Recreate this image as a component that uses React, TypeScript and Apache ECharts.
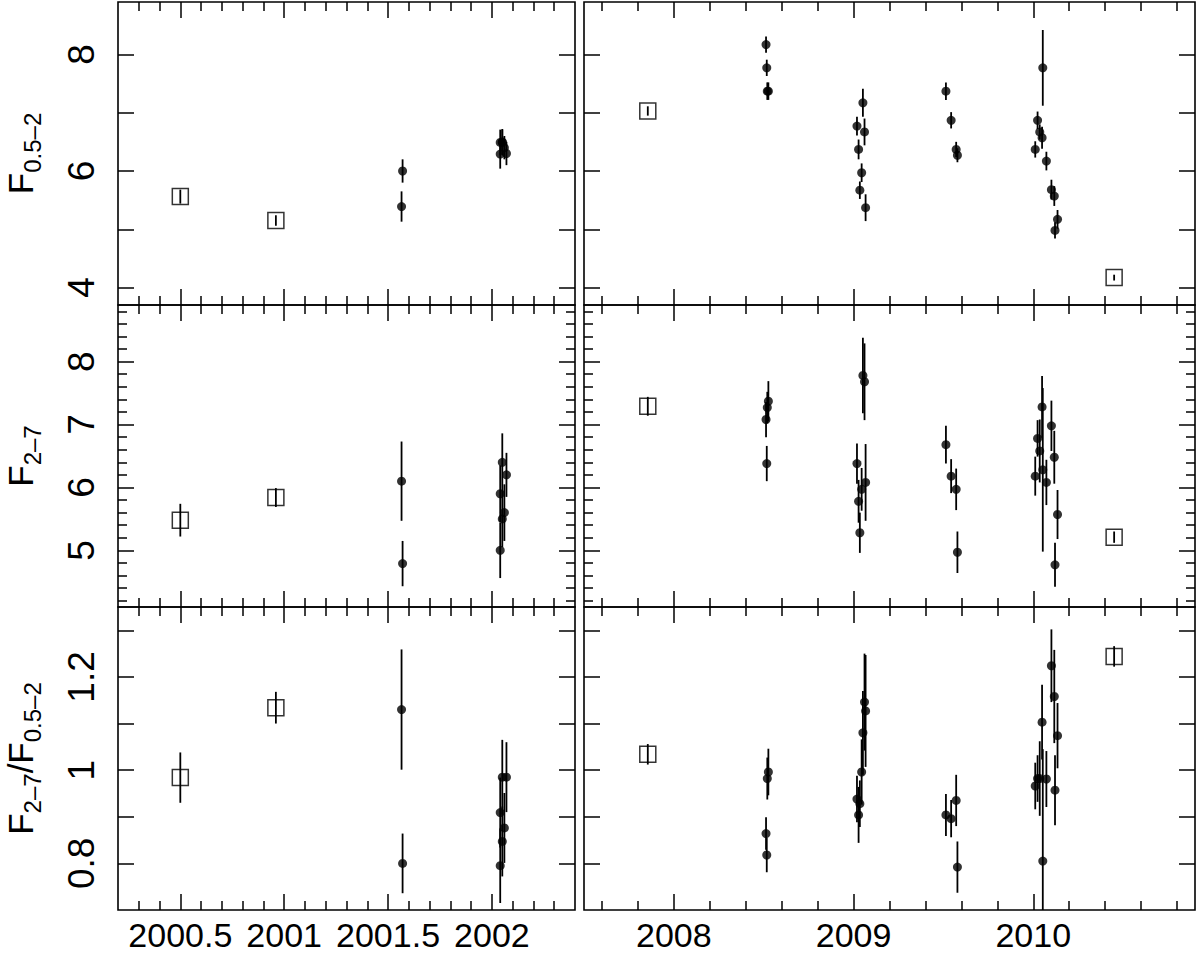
import React, { useEffect, useRef } from "react";
import * as echarts from "echarts";

// ---------- tick definitions ----------
const xRangeLeft = [2000.2, 2002.4];
const xRangeRight = [2007.5, 2010.9];
const xMajorLeft = [2000.5, 2001, 2001.5, 2002];
const xMinorLeft = [2000.3, 2000.4, 2000.6, 2000.7, 2000.8, 2000.9, 2001.1, 2001.2, 2001.3, 2001.4, 2001.6, 2001.7, 2001.8, 2001.9, 2002.1, 2002.2, 2002.3];
const xMajorRight = [2008, 2009, 2010];
const xMinorRight = [2007.6, 2007.8, 2008.2, 2008.4, 2008.6, 2008.8, 2009.2, 2009.4, 2009.6, 2009.8, 2010.2, 2010.4, 2010.6, 2010.8];

const yRangeSoft = [3.7, 8.9];
const yMajorSoft = [4, 5, 6, 7, 8];
const yLabelSoft = [4, 6, 8];
const yRangeHard = [4.1, 8.9];
const yMajorHard = [5, 6, 7, 8];
const yMinorHard = [4.2, 4.4, 4.6, 4.8, 5.2, 5.4, 5.6, 5.8, 6.2, 6.4, 6.6, 6.8, 7.2, 7.4, 7.6, 7.8, 8.2, 8.4, 8.6, 8.8];
const yLabelHard = [5, 6, 7, 8];
const yRangeRatio = [0.7, 1.35];
const yMajorRatio = [0.8, 0.9, 1.0, 1.1, 1.2, 1.3];
const yLabelRatio = [0.8, 1, 1.2];

// ---------- data: left column (2000-2002) ----------
const leftSquareX = [2000.5, 2000.96];
const leftSquareSoft = [5.56, 5.15];
const leftSquareSoftErr = [0.12, 0.09];
const leftSquareHard = [5.48, 5.84];
const leftSquareHardErr = [0.26, 0.15];
const leftSquareRatio = [0.984, 1.134];
const leftSquareRatioErr = [0.054, 0.034];

const leftCircleX = [2001.57, 2001.565, 2002.05, 2002.07, 2002.04, 2002.06, 2002.05, 2002.04];
const leftCircleSoft = [6.0, 5.39, 6.49, 6.3, 6.49, 6.4, 6.5, 6.29];
const leftCircleSoftErr = [0.2, 0.26, 0.22, 0.2, 0.22, 0.2, 0.22, 0.25];
const leftCircleHard = [4.79, 6.1, 6.4, 6.2, 5.9, 5.6, 5.5, 5.0];
const leftCircleHardErr = [0.36, 0.63, 0.46, 0.35, 0.45, 0.45, 0.45, 0.44];
const leftCircleRatio = [0.8, 1.13, 0.985, 0.985, 0.909, 0.876, 0.847, 0.795];
const leftCircleRatioErr = [0.064, 0.129, 0.08, 0.075, 0.075, 0.075, 0.075, 0.08];

// ---------- data: right column (2007.5-2010.9) ----------
const rightSquareX = [2007.855, 2010.45];
const rightSquareSoft = [7.03, 4.17];
const rightSquareSoftErr = [0.08, 0.05];
const rightSquareHard = [7.29, 5.21];
const rightSquareHardErr = [0.15, 0.09];
const rightSquareRatio = [1.034, 1.244];
const rightSquareRatioErr = [0.022, 0.022];

const rightCircleX = [
  2008.513, 2008.517, 2008.52, 2008.526,
  2009.019, 2009.028, 2009.035, 2009.045, 2009.052, 2009.061, 2009.067,
  2009.514, 2009.543, 2009.571, 2009.578,
  2010.011, 2010.024, 2010.036, 2010.049, 2010.053, 2010.073, 2010.101, 2010.117, 2010.121, 2010.135,
];
const rightCircleSoft = [
  8.17, 7.77, 7.37, 7.37,
  6.77, 6.37, 5.67, 5.97, 7.17, 6.67, 5.37,
  7.37, 6.87, 6.37, 6.27,
  6.37, 6.87, 6.67, 6.57, 7.77, 6.17, 5.68, 5.57, 4.98, 5.17,
];
const rightCircleSoftErr = [
  0.14, 0.14, 0.15, 0.15,
  0.16, 0.17, 0.15, 0.16, 0.24, 0.23, 0.23,
  0.15, 0.14, 0.13, 0.12,
  0.14, 0.15, 0.13, 0.19, 0.65, 0.16, 0.17, 0.17, 0.14, 0.16,
];
const rightCircleHard = [
  7.08, 6.38, 7.27, 7.37,
  6.38, 5.78, 5.28, 5.97, 7.78, 7.68, 6.08,
  6.68, 6.18, 5.97, 4.97,
  6.18, 6.78, 6.58, 7.28, 6.28, 6.08, 6.98, 6.48, 4.77, 5.57,
];
const rightCircleHardErr = [
  0.28, 0.28, 0.25, 0.32,
  0.32, 0.34, 0.32, 0.34, 0.6, 0.61, 0.61,
  0.3, 0.27, 0.33, 0.33,
  0.31, 0.29, 0.5, 0.49, 1.3, 0.36, 0.4, 0.42, 0.35, 0.39,
];
const rightCircleRatio = [
  0.864, 0.818, 0.982, 0.996,
  0.938, 0.904, 0.928, 0.996, 1.08, 1.146, 1.127,
  0.904, 0.896, 0.935, 0.792,
  0.966, 0.982, 0.982, 1.103, 0.805, 0.981, 1.224, 1.158, 0.957, 1.074,
];
const rightCircleRatioErr = [
  0.035, 0.037, 0.045, 0.05,
  0.05, 0.06, 0.05, 0.07, 0.09, 0.104, 0.12,
  0.045, 0.04, 0.055, 0.055,
  0.05, 0.05, 0.08, 0.08, 0.24, 0.06, 0.078, 0.1, 0.075, 0.07,
];

const FONT = "'Liberation Sans', Arial, Helvetica, sans-serif";

function buildOption() {
  const rows = [
    { top: 2, height: 303, range: yRangeSoft, major: yMajorSoft, minor: [] as number[], labels: yLabelSoft },
    { top: 305, height: 302, range: yRangeHard, major: yMajorHard, minor: yMinorHard, labels: yLabelHard },
    { top: 607, height: 303, range: yRangeRatio, major: yMajorRatio, minor: [] as number[], labels: yLabelRatio },
  ];
  const cols = [
    { left: 118, width: 457, range: xRangeLeft, major: xMajorLeft, minor: xMinorLeft },
    { left: 584, width: 611, range: xRangeRight, major: xMajorRight, minor: xMinorRight },
  ];
  const colData = [
    {
      sqX: leftSquareX,
      sq: [leftSquareSoft, leftSquareHard, leftSquareRatio],
      sqE: [leftSquareSoftErr, leftSquareHardErr, leftSquareRatioErr],
      ciX: leftCircleX,
      ci: [leftCircleSoft, leftCircleHard, leftCircleRatio],
      ciE: [leftCircleSoftErr, leftCircleHardErr, leftCircleRatioErr],
    },
    {
      sqX: rightSquareX,
      sq: [rightSquareSoft, rightSquareHard, rightSquareRatio],
      sqE: [rightSquareSoftErr, rightSquareHardErr, rightSquareRatioErr],
      ciX: rightCircleX,
      ci: [rightCircleSoft, rightCircleHard, rightCircleRatio],
      ciE: [rightCircleSoftErr, rightCircleHardErr, rightCircleRatioErr],
    },
  ];

  const grid: any[] = [];
  const xAxis: any[] = [];
  const yAxis: any[] = [];
  const series: any[] = [];
  const fmt = (v: number) => String(+Number(v).toFixed(3));
  const tickStyle = { color: "#000", width: 1.5 };

  rows.forEach((row, r) => {
    cols.forEach((col, c) => {
      const g = grid.length;
      grid.push({
        left: col.left, top: row.top, width: col.width, height: row.height,
        show: true, borderColor: "#000", borderWidth: 1.6, backgroundColor: "transparent",
      });
      const mkX = (pos: string, ticks: number[], len: number, withLabels: boolean) => ({
        type: "value", gridIndex: g, position: pos, min: col.range[0], max: col.range[1],
        axisLine: { show: false }, splitLine: { show: false },
        axisTick: { show: ticks.length > 0, inside: true, length: len, customValues: ticks, lineStyle: tickStyle },
        axisLabel: withLabels
          ? { show: true, customValues: col.major, formatter: fmt, fontSize: 34, fontFamily: FONT, color: "#000", margin: 8 }
          : { show: false },
      });
      const xBase = xAxis.length;
      xAxis.push(mkX("bottom", col.major, 16, r === 2));
      xAxis.push(mkX("bottom", col.minor, 9, false));
      xAxis.push(mkX("top", col.major, 16, false));
      xAxis.push(mkX("top", col.minor, 9, false));

      const mkY = (pos: string, ticks: number[], len: number, withLabels: boolean) => ({
        type: "value", gridIndex: g, position: pos, min: row.range[0], max: row.range[1],
        axisLine: { show: false }, splitLine: { show: false },
        axisTick: { show: ticks.length > 0, inside: true, length: len, customValues: ticks, lineStyle: tickStyle },
        axisLabel: withLabels
          ? { show: true, customValues: row.labels, formatter: fmt, rotate: 90, fontSize: 37, fontFamily: FONT, color: "#000", margin: 18 }
          : { show: false },
      });
      const yBase = yAxis.length;
      yAxis.push(mkY("left", row.major, 16, c === 0));
      yAxis.push(mkY("left", row.minor, 9, false));
      yAxis.push(mkY("right", row.major, 16, false));
      yAxis.push(mkY("right", row.minor, 9, false));

      const d = colData[c];
      const errData: number[][] = [];
      d.sqX.forEach((x, i) => errData.push([x, d.sq[r][i] - d.sqE[r][i], d.sq[r][i] + d.sqE[r][i]]));
      d.ciX.forEach((x, i) => errData.push([x, d.ci[r][i] - d.ciE[r][i], d.ci[r][i] + d.ciE[r][i]]));

      series.push({
        type: "custom", xAxisIndex: xBase, yAxisIndex: yBase, clip: true, silent: true,
        data: errData,
        renderItem: (params: any, api: any) => {
          const p1 = api.coord([api.value(0), api.value(1)]);
          const p2 = api.coord([api.value(0), api.value(2)]);
          return {
            type: "line",
            shape: { x1: p1[0], y1: p1[1], x2: p2[0], y2: p2[1] },
            style: { stroke: "#000", lineWidth: 1.8 },
          };
        },
      });
      series.push({
        type: "scatter", xAxisIndex: xBase, yAxisIndex: yBase, silent: true,
        symbol: "circle", symbolSize: 9,
        itemStyle: { color: "#000" },
        data: d.ciX.map((x, i) => [x, d.ci[r][i]]),
      });
      series.push({
        type: "scatter", xAxisIndex: xBase, yAxisIndex: yBase, silent: true,
        symbol: "rect", symbolSize: 16,
        itemStyle: { color: "rgba(0,0,0,0)", borderColor: "#000", borderWidth: 1.5 },
        data: d.sqX.map((x, i) => [x, d.sq[r][i]]),
      });
    });
  });

  const rich = {
    f: { fontSize: 35, fontFamily: FONT, fill: "#000", color: "#000" },
    s: { fontSize: 24, padding: [25, 0, 0, 0], fontFamily: FONT, fill: "#000", color: "#000" },
  };
  const title = (y: number, text: string) => ({
    type: "text", x: 20, y, rotation: Math.PI / 2, silent: true,
    style: { text, rich, align: "center", verticalAlign: "middle", textAlign: "center", textVerticalAlign: "middle", fill: "#000" },
  });

  return {
    animation: false,
    backgroundColor: "#fff",
    grid, xAxis, yAxis, series,
    graphic: {
      elements: [
        title(153.5, "{f|F}{s|0.5–2}"),
        title(456, "{f|F}{s|2–7}"),
        title(758.5, "{f|F}{s|2–7}{f|/F}{s|0.5–2}"),
      ],
    },
  };
}

export default function App() {
  const ref = useRef<HTMLDivElement>(null);
  useEffect(() => {
    if (!ref.current) return;
    const chart = echarts.init(ref.current, undefined, { renderer: "svg" });
    chart.setOption(buildOption() as any);
    return () => chart.dispose();
  }, []);
  return (
    <div
      ref={ref}
      style={{ position: "fixed", left: 0, top: 0, width: 1200, height: 954, background: "#fff" }}
    />
  );
}
